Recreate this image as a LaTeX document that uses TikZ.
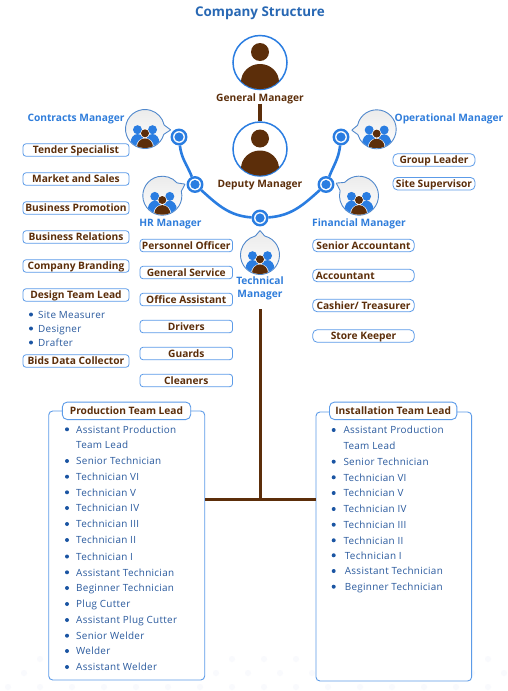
\documentclass[tikz,border=0pt]{standalone}
\usepackage{fontspec}
\setmainfont{Open Sans}
\newfontfamily\itemfont[LetterSpace=3]{Open Sans}
\definecolor{uiblue}{HTML}{2A7DE1}
\definecolor{lblue}{HTML}{2F7DDB}
\definecolor{tblue}{HTML}{2868B4}
\definecolor{brownc}{HTML}{5C2E0A}
\definecolor{itemc}{HTML}{2A5A9E}
\definecolor{dotc}{HTML}{1B55A3}
\definecolor{edge}{HTML}{5C9BE8}
\definecolor{faint}{HTML}{F9FAFD}
\tikzset{
  boxlab/.style={draw=edge,line width=0.8pt,rounded corners=3pt,fill=white,inner sep=0pt,minimum height=12.5pt,text=brownc,text height=9.5pt,text depth=1.7pt,font=\fontsize{10.2}{10}\selectfont\bfseries},
  bluelab/.style={text=lblue,inner sep=0pt,text height=9.5pt,text depth=1.7pt,font=\fontsize{10.2}{10}\selectfont\bfseries},
  brownlab/.style={text=brownc,inner sep=0pt,text height=9.5pt,text depth=1.7pt,font=\fontsize{10.2}{10}\selectfont\bfseries},
  itemlab/.style={text=itemc,inner sep=0pt,anchor=west,text height=9.2pt,text depth=1.4pt,font=\itemfont\fontsize{9.9}{10}\selectfont},
  ringnode/.style={circle,draw=uiblue,line width=2.4pt,fill=white,inner sep=0pt,minimum size=14.5pt},
  arcline/.style={draw=uiblue,line width=2.6pt},
  trunk/.style={draw=brownc,line width=3pt},
  teambox/.style={draw=edge,line width=0.9pt,rounded corners=4pt,fill=white,inner sep=0pt},
  teamhead/.style={draw=edge,line width=0.9pt,rounded corners=5pt,fill=white,inner sep=0pt,minimum height=17.5pt,text=brownc,text height=9.5pt,text depth=1.7pt,font=\fontsize{10.2}{10}\selectfont\bfseries},
}
\newcommand{\personcircle}[3]{%
  \node[circle,draw=uiblue,line width=1.5pt,fill=white,inner sep=0pt,minimum size=54pt] (#1) at (#2,#3) {};
  \begin{scope}
    \clip (#2,#3) circle (26.6);
    \fill[brownc] (#2,#3-10.5) circle (9);
    \fill[brownc] (#2,#3+19.5) ellipse (19 and 18);
  \end{scope}}
\newcommand{\bubblenode}[5]{%
  \begin{scope}[shift={(#2,#3)}]
    \path[draw=uiblue!85!black!80,line width=0.9pt,top color=black!8,bottom color=white,rounded corners=0.4pt]
      (#4+14:19.5) arc[start angle=#4+14,delta angle=332,radius=19.5] -- (#4:#5) -- cycle;
    \node[inner sep=0pt,minimum size=1pt] (#1) at (0,0) {};
    \begin{scope}
      \clip (0,0) circle (19);
      \clip (-20,-20) rectangle (20,18.6);
      \fill[uiblue] (-7.5,0.7) circle (4.5);
      \fill[uiblue] (7.5,0.7) circle (4.5);
      \fill[uiblue] (-7.5,14) ellipse (7 and 9);
      \fill[uiblue] (7.5,14) ellipse (7 and 9);
      \fill[white] (0,4.3) circle (4.7);
      \fill[white] (0,18) ellipse (8.8 and 9);
      \fill[brownc] (0,4.3) circle (4);
      \fill[brownc] (0,18) ellipse (8 and 8.6);
    \end{scope}
  \end{scope}}
\newcommand{\itm}[5]{%
  \fill[dotc] (#2,#3) circle (2);
  \node[itemlab] (#1) at (#4,#3) {#5};}
\begin{document}
\begin{tikzpicture}[x=1pt,y=-1pt]
\useasboundingbox (0,0) rectangle (507,691);
\fill[white] (0,0) rectangle (507,691);
% faint background dots
\foreach \r in {0,1,2} \foreach \c in {0,...,16}
  \fill[faint] (\c*32+8+\r*16,687-\r*14) circle (3);
\node[inner sep=0pt,text=tblue,text height=9.5pt,text depth=3pt,font=\fontsize{13.4}{14}\selectfont\bfseries] (title) at (260,13) {Company Structure};
% managers
\personcircle{gm}{260}{62.5}
\personcircle{dm}{260}{149}
\node[brownlab] (gml) at (260,97.7) {General Manager};
\node[brownlab] (dml) at (260,184) {Deputy Manager};
\draw[draw=brownc,line width=4.5pt] (gml.south) -- (dm.north);
% ring nodes
\node[ringnode] (r1) at (179,137) {};
\node[ringnode] (r2) at (195,184.5) {};
\node[ringnode] (r3) at (260,218) {};
\node[ringnode] (r4) at (326,184.5) {};
\node[ringnode] (r5) at (341,137) {};
\draw[arcline] (r1) to[out=-84,in=112] (r2);
\draw[arcline] (r2) to[out=-42,in=176] (r3);
\draw[arcline] (r3) to[out=4,in=-138] (r4);
\draw[arcline] (r4) to[out=68,in=-96] (r5);
\foreach \n in {r1,r2,r3,r4,r5} \fill[uiblue] (\n.center) circle (4.6);
% bubbles
\bubblenode{bc}{145}{129}{2}{25.7}
\bubblenode{bh}{162.3}{195.7}{-27}{25.5}
\bubblenode{bo}{376.7}{129.3}{178}{25}
\bubblenode{bf}{359}{195.7}{209}{26}
\bubblenode{bt}{260}{255}{-90}{24.5}
% manager labels
\node[bluelab] (lc) at (76,118) {Contracts Manager};
\node[bluelab] (lh) at (170.5,222.5) {HR Manager};
\node[bluelab] (lo) at (449,118) {Operational Manager};
\node[bluelab] (lf) at (359,222.5) {Financial Manager};
\node[bluelab] (lt1) at (260,280.7) {Technical};
\node[bluelab] (lt2) at (260,294) {Manager};
% left column
\tikzset{lw/.style={boxlab,minimum width=106pt}}
\node[lw] (a1) at (76,150) {Tender Specialist};
\node[lw] (a2) at (76,179) {Market  and Sales};
\node[lw] (a3) at (76,208) {Business Promotion};
\node[lw] (a4) at (76,237) {Business Relations};
\node[lw] (a5) at (76,266) {Company Branding};
\node[lw] (a6) at (76,295) {Design Team Lead};
\node[lw] (a7) at (76,361) {Bids Data Collector};
\itm{s1}{31}{314.5}{38}{Site Measurer}
\itm{s2}{31}{328.5}{38}{Designer}
\itm{s3}{31}{342.5}{38}{Drafter}
% middle column
\tikzset{mw/.style={boxlab,minimum width=92.5pt}}
\node[mw] (b1) at (186.3,245.5) {Personnel Officer};
\node[mw] (b2) at (186.3,272.5) {General Service};
\node[mw] (b3) at (186.3,299.5) {Office Assistant};
\node[mw] (b4) at (186.3,326.5) {Drivers};
\node[mw] (b5) at (186.3,353.5) {Guards};
\node[mw] (b6) at (186.3,380.5) {Cleaners};
% right column
\tikzset{rw/.style={boxlab,minimum width=101.5pt,rounded corners=4.5pt}}
\node[rw] (c1) at (363.5,245.5) {Senior Accountant};
\node[rw,text width=95.5pt,align=left,inner xsep=3pt] (c2) at (363.5,275.5) {Accountant};
\node[rw] (c3) at (363.5,305.5) {Cashier/ Treasurer};
\node[rw] (c4) at (363.5,336) {Store Keeper};
\node[boxlab,minimum width=82pt,rounded corners=4.5pt] (d1) at (434,160) {Group Leader};
\node[boxlab,minimum width=82pt,rounded corners=4.5pt] (d2) at (434,183.7) {Site Supervisor};
% team boxes
\node[teambox,minimum width=156pt,minimum height=269pt] (pb) at (126.7,545.5) {};
\node[teambox,minimum width=155.7pt,minimum height=269pt] (ib) at (393.8,546.5) {};
\node[teamhead,minimum width=128.4pt] (ph) at (126.5,410.8) {Production Team Lead};
\node[teamhead,minimum width=127.4pt] (ih) at (393.2,410.8) {Installation Team Lead};
% trunk
\coordinate (tt) at (260,309);
\coordinate (tj) at (260,499.3);
\draw[trunk] (tt) -- (tj);
\draw[trunk] (pb.east |- tj) -- (ib.west |- tj);
% production list
\itm{p1}{67}{429.3}{76}{Assistant Production}
\node[itemlab] (p1b) at (76,445) {Team Lead};
\itm{p2}{67}{461}{76}{Senior Technician}
\itm{p3}{67}{476.7}{76}{Technician VI}
\itm{p4}{67}{492.3}{76}{Technician V}
\itm{p5}{67}{508}{76}{Technician IV}
\itm{p6}{67}{524}{76}{Technician III}
\itm{p7}{67}{540}{76}{Technician II}
\itm{p8}{67}{556.5}{76}{Technician I}
\itm{p9}{67}{572.3}{76}{Assistant Technician}
\itm{p10}{67}{588}{76}{Beginner Technician}
\itm{p11}{67}{604}{76}{Plug Cutter}
\itm{p12}{67}{620}{76}{Assistant Plug Cutter}
\itm{p13}{67}{635.7}{76}{Senior Welder}
\itm{p14}{67}{651}{76}{Welder}
\itm{p15}{67}{667}{76}{Assistant Welder}
% installation list
\itm{q1}{333.7}{430}{343.3}{Assistant Production}
\node[itemlab] (q1b) at (343.3,446) {Team Lead};
\itm{q2}{333.7}{461.7}{343.3}{Senior Technician}
\itm{q3}{333.7}{477.3}{343.3}{Technician VI}
\itm{q4}{333.7}{493}{343.3}{Technician V}
\itm{q5}{333.7}{509}{343.3}{Technician IV}
\itm{q6}{333.7}{524.7}{343.3}{Technician III}
\itm{q7}{333.7}{540.3}{343.3}{Technician II}
\itm{q8}{333.7}{555.3}{344.7}{Technician I}
\itm{q9}{333.7}{571}{344.7}{Assistant Technician}
\itm{q10}{333.7}{586.7}{344.7}{Beginner Technician}
\end{tikzpicture}
\end{document}
